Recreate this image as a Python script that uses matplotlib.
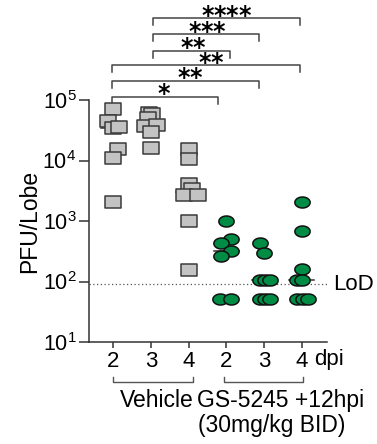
import numpy as np
import matplotlib
matplotlib.use("Agg")
import matplotlib.pyplot as plt
from matplotlib.path import Path
import matplotlib.transforms as mtransforms

plt.rcParams['font.family'] = ['Liberation Sans', 'DejaVu Sans']
plt.rcParams['mathtext.fontset'] = 'custom'
plt.rcParams['mathtext.bf'] = 'DejaVu Sans:bold'

# PFU per lobe
veh_2dpi = [72000, 45000, 35000, 36000, 15500, 11000, 2100]
veh_3dpi = [62000, 58000, 51000, 37000, 38000, 30000, 16000]
veh_4dpi = [15500, 10500, 4100, 3400, 2650, 2650, 1000, 155]
gs_2dpi = [1000, 510, 430, 320, 260, 51, 51]
gs_3dpi = [440, 300, 105, 105, 105, 51, 51, 51]
gs_4dpi = [2100, 680, 160, 105, 105, 51, 51, 51]

groups = [veh_2dpi, veh_3dpi, veh_4dpi, gs_2dpi, gs_3dpi, gs_4dpi]
tick_labels = ['2', '3', '4', '2', '3', '4']
lod = 90

# horizontal scatter of the points (layout only)
jitter = [
    [0, -0.13, 0, 0.16, 0.13, 0, 0],
    [-0.04, 0.04, -0.07, -0.17, 0.15, 0, 0],
    [0, 0, 0, 0.1, -0.12, 0.25, 0, 0],
    [0, 0.13, -0.13, 0.13, -0.13, -0.17, 0.13],
    [-0.1, 0, -0.1, 0.03, 0.16, -0.1, 0.03, 0.16],
    [0, 0, 0, -0.13, 0, -0.13, 0.03, 0.17],
]

# significance brackets: x start, x end, stars, label x
brackets = [
    (0.97, 3.79, 1, 2.34),
    (0.97, 4.86, 2, 3.03),
    (0.97, 5.97, 2, 3.59),
    (2.06, 4.11, 2, 3.11),
    (2.06, 4.86, 3, 3.51),
    (2.06, 5.97, 4, 4.01),
]
bracket_y = [1.0136, 1.0798, 1.1446, 1.2033, 1.2727, 1.3376]

# wide rectangle and ellipse markers
rect = Path([(-0.5, -0.35), (0.5, -0.35), (0.5, 0.35), (-0.5, 0.35), (-0.5, -0.35)],
            [Path.MOVETO, Path.LINETO, Path.LINETO, Path.LINETO, Path.CLOSEPOLY])
t = np.linspace(0, 2 * np.pi, 60)
ellipse = Path(np.column_stack([0.5 * np.cos(t), 0.36 * np.sin(t)]))

fig = plt.figure(figsize=(3.77, 4.44), dpi=100)
ax = fig.add_axes([0.236, 0.2297, 0.631, 0.545])

for i, vals in enumerate(groups):
    x = i + 1 + np.array(jitter[i])
    if i < 3:
        ax.plot(x, vals, ls='none', marker=rect, ms=11.5, mfc='#c3c3c3',
                mec='#3a3a3a', mew=1.1, zorder=3)
    else:
        ax.plot(x, vals, ls='none', marker=ellipse, ms=11.0, mfc='#008c45',
                mec='#111111', mew=1.1, zorder=3)
    med = np.median(vals)
    ax.plot([i + 1 - 0.33, i + 1 + 0.33], [med, med], color='#333333', lw=1.1, zorder=2)

ax.axhline(lod, color='#555555', lw=0.9, ls=(0, (1, 2)), zorder=1)

ax.set_yscale('log')
ax.set_ylim(10, 1e5)
ax.set_xlim(0.355, 6.67)
ax.set_yticks([10, 100, 1000, 1e4, 1e5])
ax.set_yticklabels([r'$\mathregular{10^{%d}}$' % k for k in range(1, 6)])
ax.yaxis.set_minor_locator(matplotlib.ticker.NullLocator())
ax.set_xticks(range(1, 7))
ax.set_xticklabels(tick_labels)
ax.tick_params(axis='y', length=7.5, width=1.1, pad=1.5, labelsize=15.5, color='#333333')
ax.tick_params(axis='x', length=4.3, width=1.1, pad=2, labelsize=16, color='#333333')
for s in ['top', 'right']:
    ax.spines[s].set_visible(False)
for s in ['left', 'bottom']:
    ax.spines[s].set_linewidth(1.1)
    ax.spines[s].set_color('#333333')
ax.set_ylabel('PFU/Lobe', fontsize=16.5, labelpad=1)

trans = mtransforms.blended_transform_factory(ax.transData, ax.transAxes)
ax.text(6.83, lod, 'LoD', fontsize=16, va='center', ha='left', clip_on=False)
ax.text(6.33, -0.074, 'dpi', fontsize=16, va='center', ha='left', transform=trans)

# top brackets
for (x0, x1, n, lx), yb in zip(brackets, bracket_y):
    ax.plot([x0, x0, x1, x1], [yb - 0.029, yb, yb, yb - 0.029], color='#444444',
            lw=1.1, transform=trans, clip_on=False)
    lab = r'$\mathbf{' + '{*}' * n + '}$'
    ax.text(lx, yb + 0.0145, lab, fontsize=17, ha='center', va='center',
            transform=trans, clip_on=False)

# group brackets under the axis
for x0, x1 in [(0.99, 3.11), (3.94, 6.03)]:
    ax.plot([x0, x0, x1, x1], [-0.145, -0.165, -0.165, -0.145], color='#555555',
            lw=1.0, transform=trans, clip_on=False)
ax.text(2.15, -0.24, 'Vehicle', fontsize=16.5, ha='center', va='center', transform=trans)
ax.text(5.45, -0.24, 'GS-5245 +12hpi', fontsize=16.5, ha='center', va='center', transform=trans)
ax.text(5.21, -0.345, '(30mg/kg BID)', fontsize=16.5, ha='center', va='center', transform=trans)

fig.savefig('out.png', dpi=100)
